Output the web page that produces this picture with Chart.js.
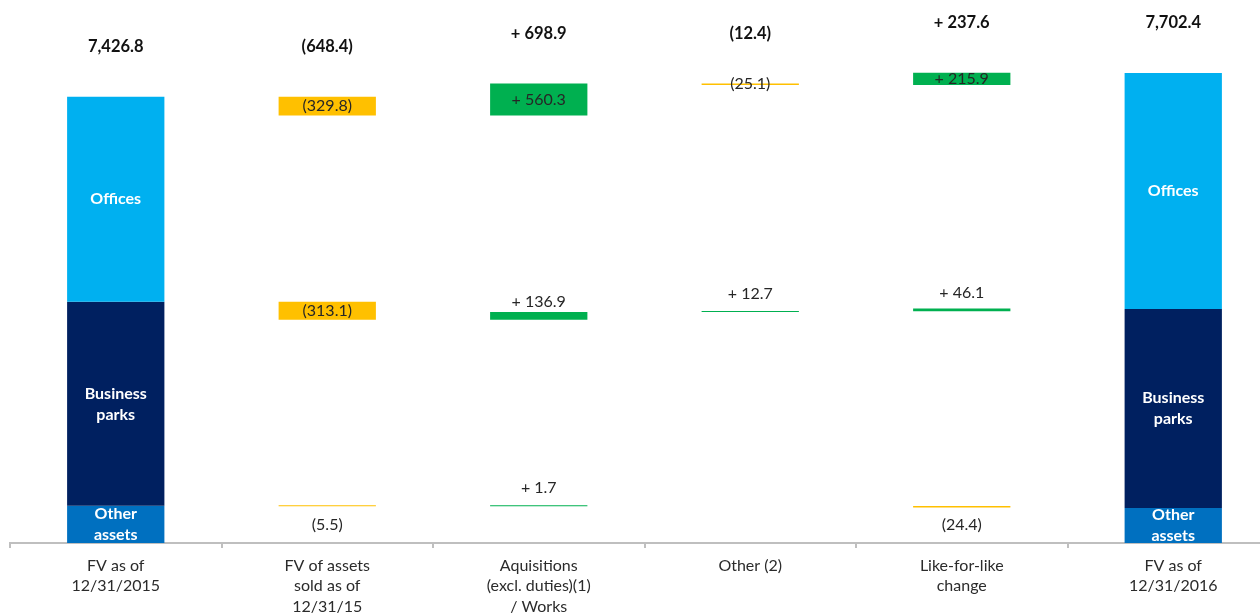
<!DOCTYPE html>
<html>
<head>
<meta charset="utf-8">
<script src="https://cdn.jsdelivr.net/npm/chart.js@4.4.1/dist/chart.umd.min.js"></script>
<style>
  html, body { margin: 0; padding: 0; background: #fff; overflow: hidden; }
  #wrap { width: 1260px; height: 614px; overflow: hidden; }
</style>
</head>
<body>
<div id="wrap"><canvas id="bridge" width="1283" height="614"></canvas></div>
<script>
// categories along the bottom
const categories = [
    ["FV as of", "12/31/2015"],
    ["FV of assets", "sold as of", "12/31/15"],
    ["Aquisitions", "(excl. duties)(1)", "/ Works"],
    ["Other (2)"],
    ["Like-for-like", "change"],
    ["FV as of", "12/31/2016"]
];

// segments, top to bottom of the stack
const segments = ["Offices", "Business parks", "Other assets"];
const segmentLines = [["Offices"], ["Business", "parks"], ["Other", "assets"]];

// opening / closing split (not printed)
const opening2015 = [3590, 3570, 650];
const closing2016 = [4130, 3483, 612];

// movements per segment, for the 4 middle columns
const officesChange = [-329.8, 560.3, -25.1, 215.9];
const businessParksChange = [-313.1, 136.9, 12.7, 46.1];
const otherAssetsChange = [-5.5, 1.7, null, -24.4];

// printed totals above each column
const columnTotals = [7426.8, -648.4, 698.9, -12.4, 237.6, 7702.4];

const segmentColors = ["#00B0F0", "#002060", "#0070C0"];
const UP = "#00B050", DOWN = "#FFC000";
const FONT = "Lato, 'Open Sans', sans-serif";

const changes = [officesChange, businessParksChange, otherAssetsChange];

function stackBase(split, k) {
    let s = 0;
    for (let j = k + 1; j < split.length; j++) s += split[j];
    return s;
}

// build floating bars [before, after] for each segment
const datasets = segments.map((name, k) => {
    const data = [], colors = [];
    const base = stackBase(opening2015, k);
    let level = base + opening2015[k];
    data.push([base, level]);
    colors.push(segmentColors[k]);
    changes[k].forEach(c => {
        if (c === null) { data.push(null); colors.push(UP); return; }
        data.push([level, level + c]);
        colors.push(c >= 0 ? UP : DOWN);
        level += c;
    });
    const cBase = stackBase(closing2016, k);
    data.push([cBase, cBase + closing2016[k]]);
    colors.push(segmentColors[k]);
    return {
        label: name,
        data,
        backgroundColor: colors,
        borderWidth: 0,
        minBarLength: 1,
        grouped: false,
        barPercentage: 1,
        categoryPercentage: 0.46
    };
});

function fmtChange(v) {
    const a = Math.abs(v).toFixed(1);
    return v >= 0 ? "+ " + a : "(" + a + ")";
}
function fmtTotal(v, i) {
    if (i === 0 || i === categories.length - 1)
        return v.toLocaleString("en-US", { minimumFractionDigits: 1, maximumFractionDigits: 1 });
    return fmtChange(v);
}

const labelPlugin = {
    id: "bridgeLabels",
    afterDatasetsDraw(chart) {
        const ctx = chart.ctx;
        const y = chart.scales.y;
        const last = categories.length - 1;
        ctx.save();
        ctx.textAlign = "center";
        ctx.textBaseline = "middle";
        const tops = categories.map(() => Infinity);

        chart.data.datasets.forEach((ds, k) => {
            const meta = chart.getDatasetMeta(k);
            ds.data.forEach((d, i) => {
                if (!d) return;
                const el = meta.data[i];
                const p0 = y.getPixelForValue(d[0]);
                const p1 = y.getPixelForValue(d[1]);
                tops[i] = Math.min(tops[i], p0, p1);
                if (i === 0 || i === last) {
                    // segment name inside the stacked bar
                    const lines = segmentLines[k];
                    const mid = (p0 + p1) / 2;
                    const lh = 21;
                    ctx.font = "bold 16px " + FONT;
                    ctx.fillStyle = "#ffffff";
                    lines.forEach((t, n) => {
                        ctx.fillText(t, el.x, mid + (n - (lines.length - 1) / 2) * lh);
                    });
                    return;
                }
                const v = d[1] - d[0];
                const h = Math.abs(p1 - p0);
                let ly;
                if (k === 0 || h >= 10) ly = (p0 + p1) / 2;
                else if (v >= 0) ly = p0 - 18;
                else ly = p0 + 19;
                ctx.font = "16px " + FONT;
                ctx.fillStyle = "#262626";
                ctx.fillText(fmtChange(v), el.x, ly);
            });
        });

        // totals above the columns
        const meta0 = chart.getDatasetMeta(0);
        ctx.font = "bold 16.5px " + FONT;
        ctx.fillStyle = "#111111";
        columnTotals.forEach((v, i) => {
            ctx.fillText(fmtTotal(v, i), meta0.data[i].x, tops[i] - 50);
        });
        ctx.restore();
    }
};

new Chart(document.getElementById("bridge"), {
    type: "bar",
    data: { labels: categories, datasets },
    options: {
        responsive: false,
        animation: false,
        layout: { padding: { left: 10, right: 4, top: 0, bottom: 0 } },
        plugins: { legend: { display: false }, tooltip: { enabled: false } },
        scales: {
            x: {
                grid: {
                    display: true,
                    drawOnChartArea: false,
                    drawTicks: true,
                    tickLength: 5,
                    color: "#BFBFBF",
                    lineWidth: 2,
                    offset: true
                },
                border: { display: true, color: "#BFBFBF", width: 2 },
                ticks: {
                    font: { family: FONT, size: 16, lineHeight: 1.3 },
                    color: "#2b2b2b",
                    padding: 7,
                    maxRotation: 0,
                    autoSkip: false
                },
                afterFit(scale) { scale.height = 71; }
            },
            y: {
                display: false,
                min: 0,
                max: 9502.5
            }
        }
    },
    plugins: [labelPlugin]
});
</script>
</body>
</html>
